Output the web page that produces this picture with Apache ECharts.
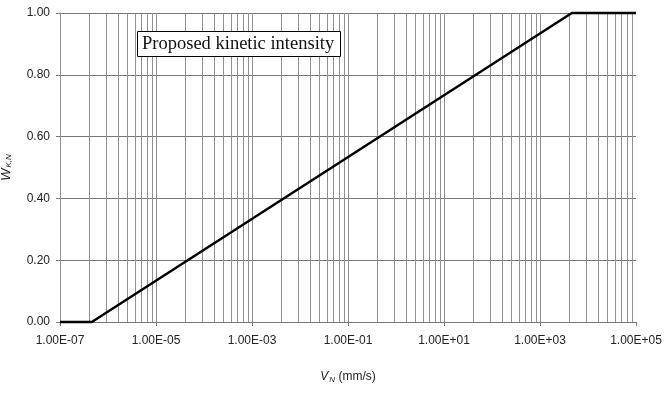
<!DOCTYPE html>
<html>
<head>
<meta charset="utf-8">
<script src="https://cdn.jsdelivr.net/npm/echarts@6/dist/echarts.min.js"></script>
<style>html,body{margin:0;padding:0;background:#fff}#c{width:664px;height:394px}</style>
</head>
<body>
<div id="c"></div>
<script>
// Data
const vN = [1e-7, 4.6e-7, 4.6e3, 1e5];   // mm/s
const wKN = [0, 0, 1, 1];
const seriesName = 'Proposed kinetic intensity';
const xMin = 1e-7, xMax = 1e5;

function fmtE(v) {
  const e = Math.round(Math.log10(v));
  const m = v / Math.pow(10, e);
  return m.toFixed(2) + 'E' + (e < 0 ? '-' : '+') + String(Math.abs(e)).padStart(2, '0');
}

// vertical grid lines (Excel-style log axis, major every two decades, minor at k^2 multiples)
const vGrid = [];
for (let e = -7; e <= 5; e += 2) {
  vGrid.push(Math.pow(10, e));
  if (e < 5) for (let k = 2; k <= 9; k++) vGrid.push(k * k * Math.pow(10, e));
}

const gridColor = '#8f8f8f';
const chart = echarts.init(document.getElementById('c'), null, { renderer: 'canvas' });
chart.setOption({
  animation: false,
  backgroundColor: '#fff',
  title: {
    text: seriesName,
    left: 137, top: 31,
    padding: [4, 7, 3, 5],
    backgroundColor: '#fff',
    borderColor: '#000',
    borderWidth: 1,
    z: 10,
    textStyle: { fontFamily: 'Liberation Serif', fontSize: 18.5, fontWeight: 'normal', color: '#111' }
  },
  grid: { left: 60, right: 28, top: 13, bottom: 72, containLabel: false, outerBoundsMode: 'none' },
  xAxis: {
    type: 'log', logBase: 10, min: xMin * 0.99999, max: xMax * 1.00001, interval: 2,
    name: '{i|V}{s|N} {n|(mm/s)}',
    nameLocation: 'middle', nameGap: 48, nameMoveOverlap: false,
    nameTextStyle: {
      rich: {
        i: { fontFamily: 'Liberation Sans', fontStyle: 'italic', fontSize: 12, color: '#222' },
        s: { fontFamily: 'Liberation Sans', fontStyle: 'italic', fontSize: 8, color: '#222', padding: [6, 0, 0, 1] },
        n: { fontFamily: 'Liberation Sans', fontSize: 12, color: '#222' }
      }
    },
    axisLine: { lineStyle: { color: '#777', width: 1 } },
    axisTick: { show: true, length: 4, inside: false, lineStyle: { color: '#777' } },
    axisLabel: { formatter: fmtE, fontFamily: 'Liberation Sans', fontSize: 12, color: '#222', margin: 13, showMinLabel: true, showMaxLabel: true, hideOverlap: false },
    splitLine: { show: false },
    minorTick: { show: false }, minorSplitLine: { show: false }
  },
  yAxis: {
    type: 'value', min: 0, max: 1, interval: 0.2,
    name: '{i|W}{s|K,N}',
    nameLocation: 'middle', nameGap: 47, nameRotate: 90, nameMoveOverlap: false,
    nameTextStyle: {
      rich: {
        i: { fontFamily: 'Liberation Sans', fontStyle: 'italic', fontSize: 13, color: '#222' },
        s: { fontFamily: 'Liberation Sans', fontStyle: 'italic', fontSize: 8, color: '#222', padding: [6, 0, 0, 1] }
      }
    },
    axisLine: { show: true, lineStyle: { color: '#777', width: 1 } },
    axisTick: { show: true, length: 4, lineStyle: { color: '#777' } },
    axisLabel: { formatter: v => v.toFixed(2), fontFamily: 'Liberation Sans', fontSize: 12, color: '#222', margin: 10 },
    splitLine: { show: true, lineStyle: { color: '#777', width: 1 } }
  },
  series: [
    {
      type: 'custom', silent: true, z: 1,
      data: vGrid.map(v => [v]),
      encode: { x: 0 },
      clip: true,
      renderItem: function (params, api) {
        const p0 = api.coord([api.value(0), 0]);
        const p1 = api.coord([api.value(0), 1]);
        const x = Math.round(p0[0]) + 0.5;
        return { type: 'line', shape: { x1: x, y1: p0[1], x2: x, y2: p1[1] },
                 style: { stroke: gridColor, lineWidth: 1 } };
      }
    },
    {
      name: seriesName, type: 'line', z: 5,
      data: vN.map((v, i) => [v, wKN[i]]),
      showSymbol: false, symbol: 'none',
      lineStyle: { color: '#000', width: 2.5 },
      clip: false
    }
  ]
});
</script>
</body>
</html>
